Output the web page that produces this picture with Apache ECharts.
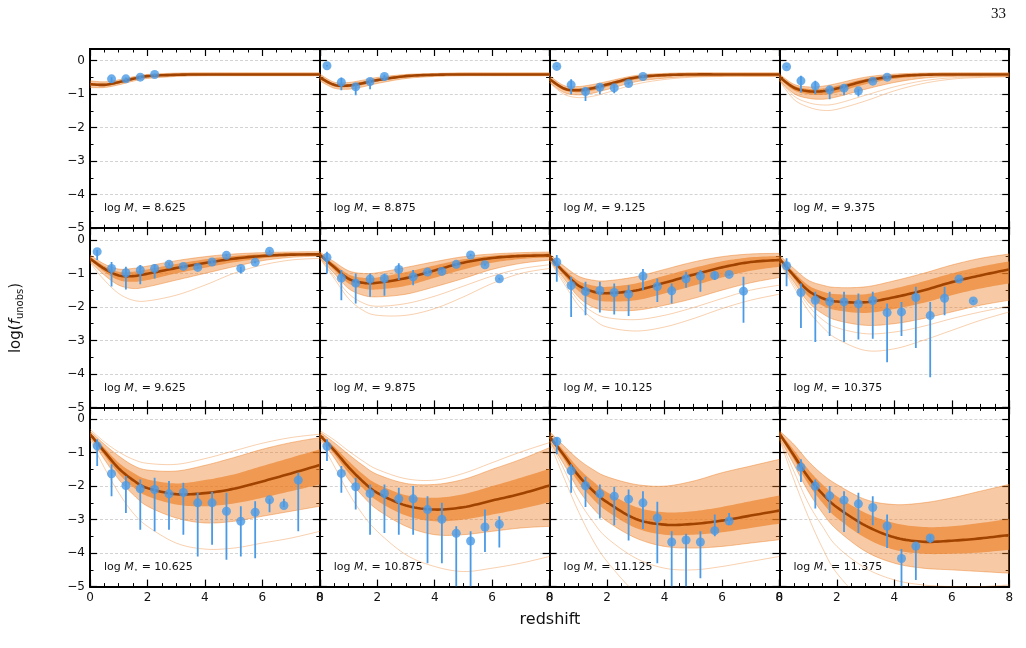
<!DOCTYPE html>
<html>
<head>
<meta charset="utf-8">
<script src="https://cdn.jsdelivr.net/npm/echarts@6/dist/echarts.min.js"></script>
<style>
  html, body { margin: 0; padding: 0; background: #fff; }
  #chart { width: 1026px; height: 648px; }
</style>
</head>
<body>
<div id="chart"></div>
<script>
(function () {
    'use strict';

    var Z = [0, 0.5, 1, 1.5, 2, 3, 4, 5, 6, 7, 8];

    var MASS = ['8.625', '8.875', '9.125', '9.375', '9.625', '9.875',
                '10.125', '10.375', '10.625', '10.875', '11.125', '11.375'];

    // Posterior median per panel.
    var MED = [
        [-0.70, -0.72, -0.64, -0.54, -0.46, -0.42, -0.41, -0.41, -0.41, -0.41, -0.41],
        [-0.50, -0.72, -0.74, -0.67, -0.58, -0.46, -0.42, -0.41, -0.41, -0.41, -0.41],
        [-0.55, -0.83, -0.88, -0.82, -0.71, -0.50, -0.43, -0.41, -0.41, -0.41, -0.41],
        [-0.48, -0.80, -0.91, -0.91, -0.83, -0.60, -0.47, -0.42, -0.41, -0.41, -0.41],
        [-0.56, -0.86, -1.06, -1.08, -1.01, -0.84, -0.69, -0.56, -0.48, -0.44, -0.43],
        [-0.44, -0.81, -1.16, -1.28, -1.28, -1.14, -0.91, -0.68, -0.54, -0.48, -0.46],
        [-0.51, -0.96, -1.36, -1.54, -1.59, -1.51, -1.28, -1.04, -0.82, -0.66, -0.60],
        [-0.56, -1.06, -1.51, -1.74, -1.84, -1.86, -1.71, -1.51, -1.26, -1.06, -0.88],
        [-0.45, -0.97, -1.47, -1.82, -2.06, -2.24, -2.21, -2.08, -1.86, -1.62, -1.37],
        [-0.48, -0.93, -1.43, -1.86, -2.20, -2.58, -2.70, -2.63, -2.43, -2.23, -1.98],
        [-0.53, -1.08, -1.68, -2.13, -2.48, -2.98, -3.15, -3.13, -3.03, -2.88, -2.73],
        [-0.43, -1.08, -1.73, -2.23, -2.63, -3.18, -3.53, -3.66, -3.63, -3.56, -3.46]
    ];

    // Outer envelope of the posterior draws (lower / upper).
    var OUT_LO = [
        [-0.80, -0.80, -0.72, -0.61, -0.53, -0.47, -0.45, -0.45, -0.45, -0.45, -0.45],
        [-0.60, -0.82, -0.85, -0.78, -0.68, -0.53, -0.47, -0.45, -0.45, -0.45, -0.45],
        [-0.65, -0.95, -1.02, -0.97, -0.86, -0.63, -0.52, -0.47, -0.46, -0.46, -0.46],
        [-0.58, -0.98, -1.12, -1.15, -1.08, -0.85, -0.65, -0.52, -0.47, -0.46, -0.46],
        [-0.65, -1.05, -1.35, -1.45, -1.40, -1.20, -1.00, -0.80, -0.62, -0.52, -0.48],
        [-0.52, -1.00, -1.45, -1.65, -1.70, -1.62, -1.40, -1.15, -0.88, -0.70, -0.60],
        [-0.60, -1.15, -1.70, -2.00, -2.10, -2.10, -1.95, -1.75, -1.50, -1.28, -1.12],
        [-0.65, -1.25, -1.85, -2.20, -2.40, -2.55, -2.50, -2.35, -2.15, -1.95, -1.80],
        [-0.55, -1.20, -1.80, -2.25, -2.60, -2.95, -3.10, -3.05, -2.90, -2.75, -2.60],
        [-0.58, -1.15, -1.80, -2.30, -2.70, -3.20, -3.45, -3.45, -3.35, -3.25, -3.20],
        [-0.65, -1.35, -2.10, -2.65, -3.05, -3.55, -3.80, -3.85, -3.80, -3.70, -3.60],
        [-0.55, -1.35, -2.15, -2.80, -3.30, -3.95, -4.30, -4.45, -4.50, -4.55, -4.60]
    ];
    var OUT_HI = [
        [-0.60, -0.63, -0.57, -0.48, -0.41, -0.37, -0.36, -0.36, -0.36, -0.36, -0.36],
        [-0.40, -0.64, -0.65, -0.58, -0.50, -0.41, -0.38, -0.36, -0.36, -0.36, -0.36],
        [-0.45, -0.74, -0.77, -0.71, -0.62, -0.44, -0.38, -0.36, -0.36, -0.36, -0.36],
        [-0.40, -0.70, -0.78, -0.76, -0.68, -0.49, -0.40, -0.37, -0.36, -0.36, -0.36],
        [-0.45, -0.72, -0.87, -0.85, -0.78, -0.62, -0.50, -0.42, -0.38, -0.36, -0.35],
        [-0.36, -0.65, -0.92, -1.00, -0.98, -0.82, -0.65, -0.50, -0.42, -0.38, -0.36],
        [-0.42, -0.78, -1.08, -1.20, -1.22, -1.10, -0.88, -0.66, -0.50, -0.42, -0.40],
        [-0.45, -0.85, -1.20, -1.35, -1.42, -1.40, -1.22, -1.00, -0.75, -0.55, -0.42],
        [-0.35, -0.75, -1.10, -1.38, -1.52, -1.55, -1.38, -1.15, -0.90, -0.70, -0.55],
        [-0.38, -0.70, -1.05, -1.38, -1.65, -1.92, -1.95, -1.80, -1.50, -1.20, -0.85],
        [-0.38, -0.80, -1.20, -1.50, -1.72, -1.95, -2.00, -1.85, -1.60, -1.40, -1.20],
        [-0.35, -0.75, -1.25, -1.65, -1.95, -2.40, -2.55, -2.50, -2.35, -2.15, -1.95]
    ];

    // Dense core of the draws (lower / upper).
    var IN_LO = [
        [-0.74, -0.76, -0.68, -0.57, -0.49, -0.44, -0.43, -0.43, -0.43, -0.43, -0.43],
        [-0.55, -0.77, -0.79, -0.72, -0.62, -0.49, -0.44, -0.43, -0.43, -0.43, -0.43],
        [-0.60, -0.88, -0.94, -0.89, -0.78, -0.56, -0.47, -0.44, -0.43, -0.43, -0.43],
        [-0.53, -0.88, -1.00, -1.02, -0.95, -0.70, -0.54, -0.46, -0.44, -0.43, -0.43],
        [-0.60, -0.95, -1.20, -1.25, -1.20, -1.00, -0.83, -0.67, -0.55, -0.48, -0.46],
        [-0.48, -0.90, -1.30, -1.45, -1.48, -1.37, -1.13, -0.88, -0.68, -0.57, -0.52],
        [-0.55, -1.05, -1.52, -1.76, -1.84, -1.80, -1.60, -1.37, -1.12, -0.92, -0.80],
        [-0.60, -1.15, -1.68, -1.96, -2.10, -2.18, -2.06, -1.88, -1.65, -1.45, -1.30],
        [-0.50, -1.08, -1.63, -2.03, -2.30, -2.55, -2.60, -2.52, -2.35, -2.15, -1.95],
        [-0.53, -1.04, -1.60, -2.06, -2.44, -2.88, -3.05, -3.00, -2.85, -2.68, -2.48],
        [-0.58, -1.20, -1.88, -2.38, -2.75, -3.25, -3.45, -3.45, -3.38, -3.25, -3.12],
        [-0.48, -1.20, -1.93, -2.50, -2.95, -3.55, -3.90, -4.02, -4.02, -3.98, -3.90]
    ];
    var IN_HI = [
        [-0.66, -0.68, -0.61, -0.51, -0.44, -0.39, -0.38, -0.38, -0.38, -0.38, -0.38],
        [-0.45, -0.68, -0.70, -0.62, -0.54, -0.43, -0.40, -0.38, -0.38, -0.38, -0.38],
        [-0.50, -0.78, -0.82, -0.76, -0.66, -0.47, -0.40, -0.38, -0.38, -0.38, -0.38],
        [-0.44, -0.74, -0.84, -0.83, -0.75, -0.54, -0.43, -0.39, -0.38, -0.38, -0.38],
        [-0.50, -0.78, -0.95, -0.95, -0.88, -0.72, -0.58, -0.48, -0.42, -0.39, -0.39],
        [-0.40, -0.72, -1.03, -1.13, -1.12, -0.96, -0.76, -0.58, -0.47, -0.42, -0.40],
        [-0.46, -0.87, -1.22, -1.36, -1.40, -1.30, -1.07, -0.84, -0.64, -0.52, -0.48],
        [-0.50, -0.96, -1.35, -1.54, -1.62, -1.62, -1.45, -1.24, -1.00, -0.80, -0.64],
        [-0.40, -0.86, -1.30, -1.60, -1.80, -1.92, -1.82, -1.65, -1.40, -1.15, -0.90],
        [-0.43, -0.82, -1.25, -1.64, -1.94, -2.27, -2.35, -2.24, -2.00, -1.75, -1.48],
        [-0.46, -0.95, -1.46, -1.85, -2.18, -2.62, -2.78, -2.75, -2.62, -2.45, -2.28],
        [-0.38, -0.92, -1.50, -1.95, -2.30, -2.80, -3.10, -3.22, -3.20, -3.10, -2.98]
    ];

    // Stray draws outside the envelope.
    var EXTRA = [
        [],
        [],
        [[-0.66, -1.00, -1.10, -1.06, -0.95, -0.70, -0.56, -0.49, -0.47, -0.46, -0.46]],
        [[-0.60, -1.15, -1.38, -1.48, -1.45, -1.20, -0.90, -0.68, -0.55, -0.50, -0.48],
         [-0.58, -1.05, -1.25, -1.32, -1.28, -1.03, -0.78, -0.60, -0.51, -0.48, -0.47]],
        [[-0.68, -1.20, -1.60, -1.80, -1.82, -1.65, -1.35, -1.00, -0.75, -0.60, -0.55]],
        [[-0.55, -1.15, -1.75, -2.10, -2.25, -2.25, -2.05, -1.70, -1.30, -1.00, -0.85],
         [-0.54, -1.08, -1.60, -1.88, -1.98, -1.90, -1.68, -1.38, -1.08, -0.86, -0.74]],
        [[-0.62, -1.30, -1.95, -2.35, -2.60, -2.72, -2.60, -2.35, -2.05, -1.80, -1.62],
         [-0.60, -1.22, -1.80, -2.15, -2.32, -2.38, -2.25, -2.02, -1.75, -1.50, -1.35]],
        [[-0.68, -1.40, -2.10, -2.60, -2.95, -3.30, -3.25, -3.00, -2.70, -2.40, -2.15],
         [-0.66, -1.32, -1.95, -2.38, -2.62, -2.80, -2.75, -2.58, -2.35, -2.15, -1.98]],
        [[-0.60, -1.45, -2.20, -2.80, -3.20, -3.70, -3.88, -3.85, -3.70, -3.55, -3.35],
         [-0.30, -0.68, -0.98, -1.20, -1.32, -1.35, -1.18, -0.95, -0.72, -0.55, -0.45]],
        [[-0.62, -1.40, -2.20, -2.85, -3.35, -4.05, -4.40, -4.55, -4.45, -4.30, -4.10],
         [-0.34, -0.62, -0.95, -1.25, -1.50, -1.78, -1.82, -1.62, -1.30, -0.98, -0.70]],
        [[-0.70, -1.75, -2.75, -3.60, -4.25, -5.20, -5.80, -6.00, -6.00, -6.00, -6.00],
         [-0.65, -1.50, -2.40, -3.05, -3.55, -4.15, -4.45, -4.50, -4.40, -4.25, -4.10]],
        [[-0.60, -1.80, -2.90, -3.85, -4.60, -5.50, -6.00, -6.00, -6.00, -6.00, -6.00],
         [-0.58, -1.55, -2.50, -3.20, -3.80, -4.45, -4.80, -4.95, -5.00, -5.00, -4.95]]
    ];

    // Observed fractions: [redshift, value, lower end, upper end].
    var OBS = [
        [[0.75, -0.54, -0.66, -0.49], [1.25, -0.54, -0.60, -0.50], [1.75, -0.49, -0.54, -0.46], [2.25, -0.41, -0.45, -0.38]],
        [[0.25, -0.15, -0.17, -0.13], [0.75, -0.64, -0.88, -0.50], [1.25, -0.78, -1.03, -0.70], [1.75, -0.62, -0.85, -0.55],
         [2.25, -0.47, -0.60, -0.42]],
        [[0.25, -0.17, -0.19, -0.15], [0.75, -0.72, -1.00, -0.55], [1.25, -0.92, -1.20, -0.80], [1.75, -0.79, -1.00, -0.70],
         [2.25, -0.81, -0.97, -0.72], [2.75, -0.68, -0.72, -0.64], [3.25, -0.47, -0.50, -0.44]],
        [[0.25, -0.18, -0.20, -0.16], [0.75, -0.60, -0.95, -0.45], [1.25, -0.75, -1.00, -0.60], [1.75, -0.87, -1.15, -0.78],
         [2.25, -0.82, -1.03, -0.72], [2.75, -0.90, -1.07, -0.85], [3.25, -0.61, -0.64, -0.58], [3.75, -0.49, -0.52, -0.46]],
        [[0.25, -0.35, -0.60, -0.30], [0.75, -0.85, -1.39, -0.66], [1.25, -0.98, -1.48, -0.80], [1.75, -0.90, -1.32, -0.75],
         [2.25, -0.85, -1.15, -0.73], [2.75, -0.73, -0.76, -0.70], [3.25, -0.79, -0.82, -0.76], [3.75, -0.82, -0.85, -0.79],
         [4.25, -0.66, -0.69, -0.63], [4.75, -0.46, -0.49, -0.43], [5.25, -0.85, -1.00, -0.80], [5.75, -0.67, -0.70, -0.64],
         [6.25, -0.34, -0.37, -0.31]],
        [[0.25, -0.52, -1.00, -0.35], [0.75, -1.14, -1.80, -0.90], [1.25, -1.29, -1.90, -1.00], [1.75, -1.17, -1.70, -1.00],
         [2.25, -1.15, -1.67, -1.00], [2.75, -0.88, -1.20, -0.70], [3.25, -1.10, -1.35, -0.90], [3.75, -0.96, -1.00, -0.92],
         [4.25, -0.94, -0.98, -0.90], [4.75, -0.73, -0.76, -0.70], [5.25, -0.45, -0.48, -0.42], [5.75, -0.74, -0.77, -0.71],
         [6.25, -1.16, -1.19, -1.13]],
        [[0.25, -0.66, -1.25, -0.45], [0.75, -1.36, -2.30, -1.10], [1.25, -1.54, -2.25, -1.25], [1.75, -1.51, -2.17, -1.25],
         [2.25, -1.57, -2.23, -1.30], [2.75, -1.62, -2.27, -1.35], [3.25, -1.08, -1.50, -0.87], [3.75, -1.39, -1.85, -1.15],
         [4.25, -1.52, -1.90, -1.30], [4.75, -1.16, -1.43, -0.95], [5.25, -1.08, -1.55, -0.90], [5.75, -1.06, -1.20, -0.95],
         [6.25, -1.03, -1.06, -1.00], [6.75, -1.53, -2.47, -1.10]],
        [[0.25, -0.77, -1.38, -0.55], [0.75, -1.57, -2.63, -1.30], [1.25, -1.80, -3.05, -1.55], [1.75, -1.84, -2.87, -1.55],
         [2.25, -1.85, -3.05, -1.55], [2.75, -1.91, -2.97, -1.60], [3.25, -1.81, -2.95, -1.55], [3.75, -2.17, -3.65, -1.90],
         [4.25, -2.15, -2.87, -1.85], [4.75, -1.72, -3.23, -1.40], [5.25, -2.26, -4.10, -1.85], [5.75, -1.74, -2.25, -1.40],
         [6.25, -1.17, -1.20, -1.14], [6.75, -1.82, -1.85, -1.79]],
        [[0.25, -0.80, -1.40, -0.60], [0.75, -1.63, -2.30, -1.35], [1.25, -1.98, -2.80, -1.70], [1.75, -2.08, -3.30, -1.80],
         [2.25, -2.10, -3.35, -1.75], [2.75, -2.23, -3.30, -1.85], [3.25, -2.19, -3.45, -1.90], [3.75, -2.50, -4.10, -2.20],
         [4.25, -2.50, -3.75, -2.17], [4.75, -2.75, -4.20, -2.20], [5.25, -3.05, -4.10, -2.60], [5.75, -2.78, -4.15, -2.45],
         [6.25, -2.41, -2.78, -2.38], [6.75, -2.58, -2.62, -2.38], [7.25, -1.82, -3.35, -1.60]],
        [[0.25, -0.81, -1.25, -0.60], [0.75, -1.62, -2.20, -1.40], [1.25, -2.02, -2.70, -1.75], [1.75, -2.22, -3.45, -1.95],
         [2.25, -2.22, -3.40, -1.95], [2.75, -2.38, -3.45, -2.05], [3.25, -2.38, -3.45, -2.00], [3.75, -2.70, -4.30, -2.30],
         [4.25, -2.99, -4.30, -2.50], [4.75, -3.41, -5.00, -3.20], [5.25, -3.64, -5.00, -3.35], [5.75, -3.22, -3.97, -2.70],
         [6.25, -3.14, -3.83, -2.90]],
        [[0.25, -0.66, -1.05, -0.55], [0.75, -1.54, -2.20, -1.35], [1.25, -1.99, -2.62, -1.72], [1.75, -2.23, -2.97, -1.95],
         [2.25, -2.30, -3.17, -2.02], [2.75, -2.39, -3.62, -2.10], [3.25, -2.50, -3.28, -2.15], [3.75, -2.95, -4.30, -2.47],
         [4.25, -3.67, -5.00, -3.35], [4.75, -3.61, -5.00, -3.42], [5.25, -3.67, -4.75, -3.35], [5.75, -3.33, -3.50, -2.85],
         [6.25, -3.04, -3.15, -2.80]],
        [[0.75, -1.44, -1.88, -1.20], [1.25, -2.00, -2.67, -1.80], [1.75, -2.29, -2.80, -2.00], [2.25, -2.42, -3.37, -2.15],
         [2.75, -2.53, -3.40, -2.20], [3.25, -2.64, -3.17, -2.30], [3.75, -3.19, -3.85, -2.85], [4.25, -4.16, -5.00, -3.88],
         [4.75, -3.79, -4.80, -3.72], [5.25, -3.55, -3.70, -3.45]]
    ];

    var ORANGE = '#ec7a1e';
    var DARK = '#a14300';
    var BLUE = '#4a9ae6';
    var FONT = 'DejaVu Sans';

    var LEFT0 = 90, COLW = 229.8, TOP0 = 49, ROWH = 179.2;

    function minus(v) {
        return v < 0 ? '\u2212' + (-v) : String(v);
    }

    // Pixel points of a smooth (Catmull-Rom) curve through one model curve.
    function spline(arr, api) {
        var p = arr.map(function (v, k) { return api.coord([Z[k], v]); });
        var out = [p[0]];
        for (var k = 0; k < p.length - 1; k++) {
            var p0 = p[k - 1] || p[k], p1 = p[k], p2 = p[k + 1], p3 = p[k + 2] || p[k + 1];
            var c1 = [p1[0] + (p2[0] - p0[0]) / 6, p1[1] + (p2[1] - p0[1]) / 6];
            var c2 = [p2[0] - (p3[0] - p1[0]) / 6, p2[1] - (p3[1] - p1[1]) / 6];
            for (var s = 1; s <= 10; s++) {
                var t = s / 10, u = 1 - t;
                var a = u * u * u, b = 3 * u * u * t, c = 3 * u * t * t, d = t * t * t;
                out.push([a * p1[0] + b * c1[0] + c * c2[0] + d * p2[0],
                          a * p1[1] + b * c1[1] + c * c2[1] + d * p2[1]]);
            }
        }
        return out;
    }

    var grids = [], xAxes = [], yAxes = [], series = [], titles = [];

    function xAx(gi, pos, labels) {
        return {
            type: 'value', gridIndex: gi, position: pos, min: 0, max: 8, interval: 2,
            axisLine: { show: true, onZero: false, lineStyle: { color: '#000', width: 2 } },
            axisTick: { show: true, inside: true, length: 7, lineStyle: { color: '#000', width: 1.2 } },
            minorTick: { show: true, splitNumber: 4, length: 3.5, lineStyle: { color: '#000', width: 1 } },
            axisLabel: { show: labels, color: '#111', fontSize: 12, fontFamily: FONT, margin: 5 },
            splitLine: { show: false }
        };
    }

    function yAx(gi, pos, step, tick, labels, grid) {
        return {
            type: 'value', gridIndex: gi, position: pos, min: -5, max: 0.35, interval: step,
            axisLine: { show: true, onZero: false, lineStyle: { color: '#000', width: 2 } },
            axisTick: { show: true, inside: true, length: tick, lineStyle: { color: '#000', width: tick > 5 ? 1.2 : 1 } },
            axisLabel: { show: labels, color: '#111', fontSize: 12, fontFamily: FONT, margin: 5,
                         showMaxLabel: false, formatter: minus },
            splitLine: { show: grid, lineStyle: { color: '#c8c8c8', width: 0.8, type: [3, 2] } }
        };
    }

    function curve(xi, yi, arr, color, width, opacity, z) {
        series.push({
            type: 'custom', xAxisIndex: xi, yAxisIndex: yi, clip: true, silent: true, z: z,
            data: [[0, 0]],
            renderItem: function (params, api) {
                return { type: 'polyline', shape: { points: spline(arr, api) },
                         style: { stroke: color, lineWidth: width, fill: null, opacity: opacity } };
            }
        });
    }

    function band(xi, yi, lo, hi, opacity) {
        series.push({
            type: 'custom', xAxisIndex: xi, yAxisIndex: yi, clip: true, silent: true, z: 1,
            data: [[0, 0]],
            renderItem: function (params, api) {
                var pts = spline(hi, api).concat(spline(lo, api).reverse());
                return { type: 'polygon', shape: { points: pts },
                         style: { fill: ORANGE, opacity: opacity } };
            }
        });
    }

    for (var i = 0; i < 12; i++) {
        var r = Math.floor(i / 4), c = i % 4;
        var left = LEFT0 + c * COLW, top = TOP0 + r * ROWH;
        grids.push({ left: left, top: top, width: COLW, height: ROWH });

        var xi = xAxes.length, yi = yAxes.length;
        xAxes.push(xAx(i, 'bottom', r === 2), xAx(i, 'top', false));
        yAxes.push(yAx(i, 'left', 1, 7, c === 0, true), yAx(i, 'left', 0.5, 3.5, false, false),
                   yAx(i, 'right', 1, 7, false, false), yAx(i, 'right', 0.5, 3.5, false, false));

        band(xi, yi, OUT_LO[i], OUT_HI[i], 0.4);
        band(xi, yi, IN_LO[i], IN_HI[i], 0.62);
        curve(xi, yi, OUT_LO[i], ORANGE, 0.8, 0.55, 2);
        curve(xi, yi, OUT_HI[i], ORANGE, 0.8, 0.55, 2);
        EXTRA[i].forEach(function (d) { curve(xi, yi, d, ORANGE, 0.8, 0.45, 2); });
        curve(xi, yi, MED[i], DARK, 2.6, 1, 3);

        series.push({
            type: 'custom', xAxisIndex: xi, yAxisIndex: yi, z: 4, clip: true, silent: true,
            data: OBS[i].map(function (o) { return [o[0], o[2], o[3]]; }),
            renderItem: function (params, api) {
                var a = api.coord([api.value(0), api.value(1)]);
                var b = api.coord([api.value(0), api.value(2)]);
                return { type: 'line', shape: { x1: a[0], y1: a[1], x2: b[0], y2: b[1] },
                         style: { stroke: BLUE, lineWidth: 1.8 } };
            }
        });

        series.push({
            type: 'scatter', xAxisIndex: xi, yAxisIndex: yi, z: 5, silent: true,
            symbol: 'circle', symbolSize: 9, itemStyle: { color: BLUE },
            data: OBS[i].map(function (o) { return [o[0], o[1]]; })
        });

        titles.push({
            left: left + 14, top: top + 153, padding: 0,
            text: '{n|log }{i|M}{s|\u22c6}{n| = ' + MASS[i] + '}',
            textStyle: {
                fontWeight: 'normal',
                rich: {
                    n: { fontFamily: FONT, fontSize: 11, fontWeight: 'normal', color: '#111', lineHeight: 13 },
                    i: { fontFamily: FONT, fontSize: 11, fontWeight: 'normal', fontStyle: 'italic', color: '#111', lineHeight: 13 },
                    s: { fontFamily: FONT, fontSize: 7, fontWeight: 'normal', color: '#111', lineHeight: 8, verticalAlign: 'bottom' }
                }
            }
        });
    }

    var chart = echarts.init(document.getElementById('chart'), null, { renderer: 'canvas' });
    chart.setOption({
        animation: false,
        backgroundColor: '#fff',
        title: titles,
        grid: grids,
        xAxis: xAxes,
        yAxis: yAxes,
        series: series,
        graphic: [
            {
                type: 'text', x: 550, y: 620,
                style: { text: 'redshift', font: '16px "DejaVu Sans"', fill: '#111', align: 'center', verticalAlign: 'middle' }
            },
            {
                type: 'text', x: 16, y: 318, rotation: Math.PI / 2,
                style: {
                    text: '{a|log(}{f|f}{b|unobs}{a|)}', align: 'center', verticalAlign: 'middle',
                    rich: {
                        a: { fontFamily: FONT, fontSize: 15, fill: '#111', lineHeight: 18 },
                        f: { fontFamily: FONT, fontSize: 15, fontStyle: 'italic', fill: '#111', lineHeight: 18 },
                        b: { fontFamily: FONT, fontSize: 10, fill: '#111', lineHeight: 12, verticalAlign: 'bottom' }
                    }
                }
            },
            {
                type: 'text', x: 1006, y: 14,
                style: { text: '33', font: '15px "Liberation Serif"', fill: '#111', align: 'right', verticalAlign: 'middle' }
            }
        ]
    });
})();
</script>
</body>
</html>
